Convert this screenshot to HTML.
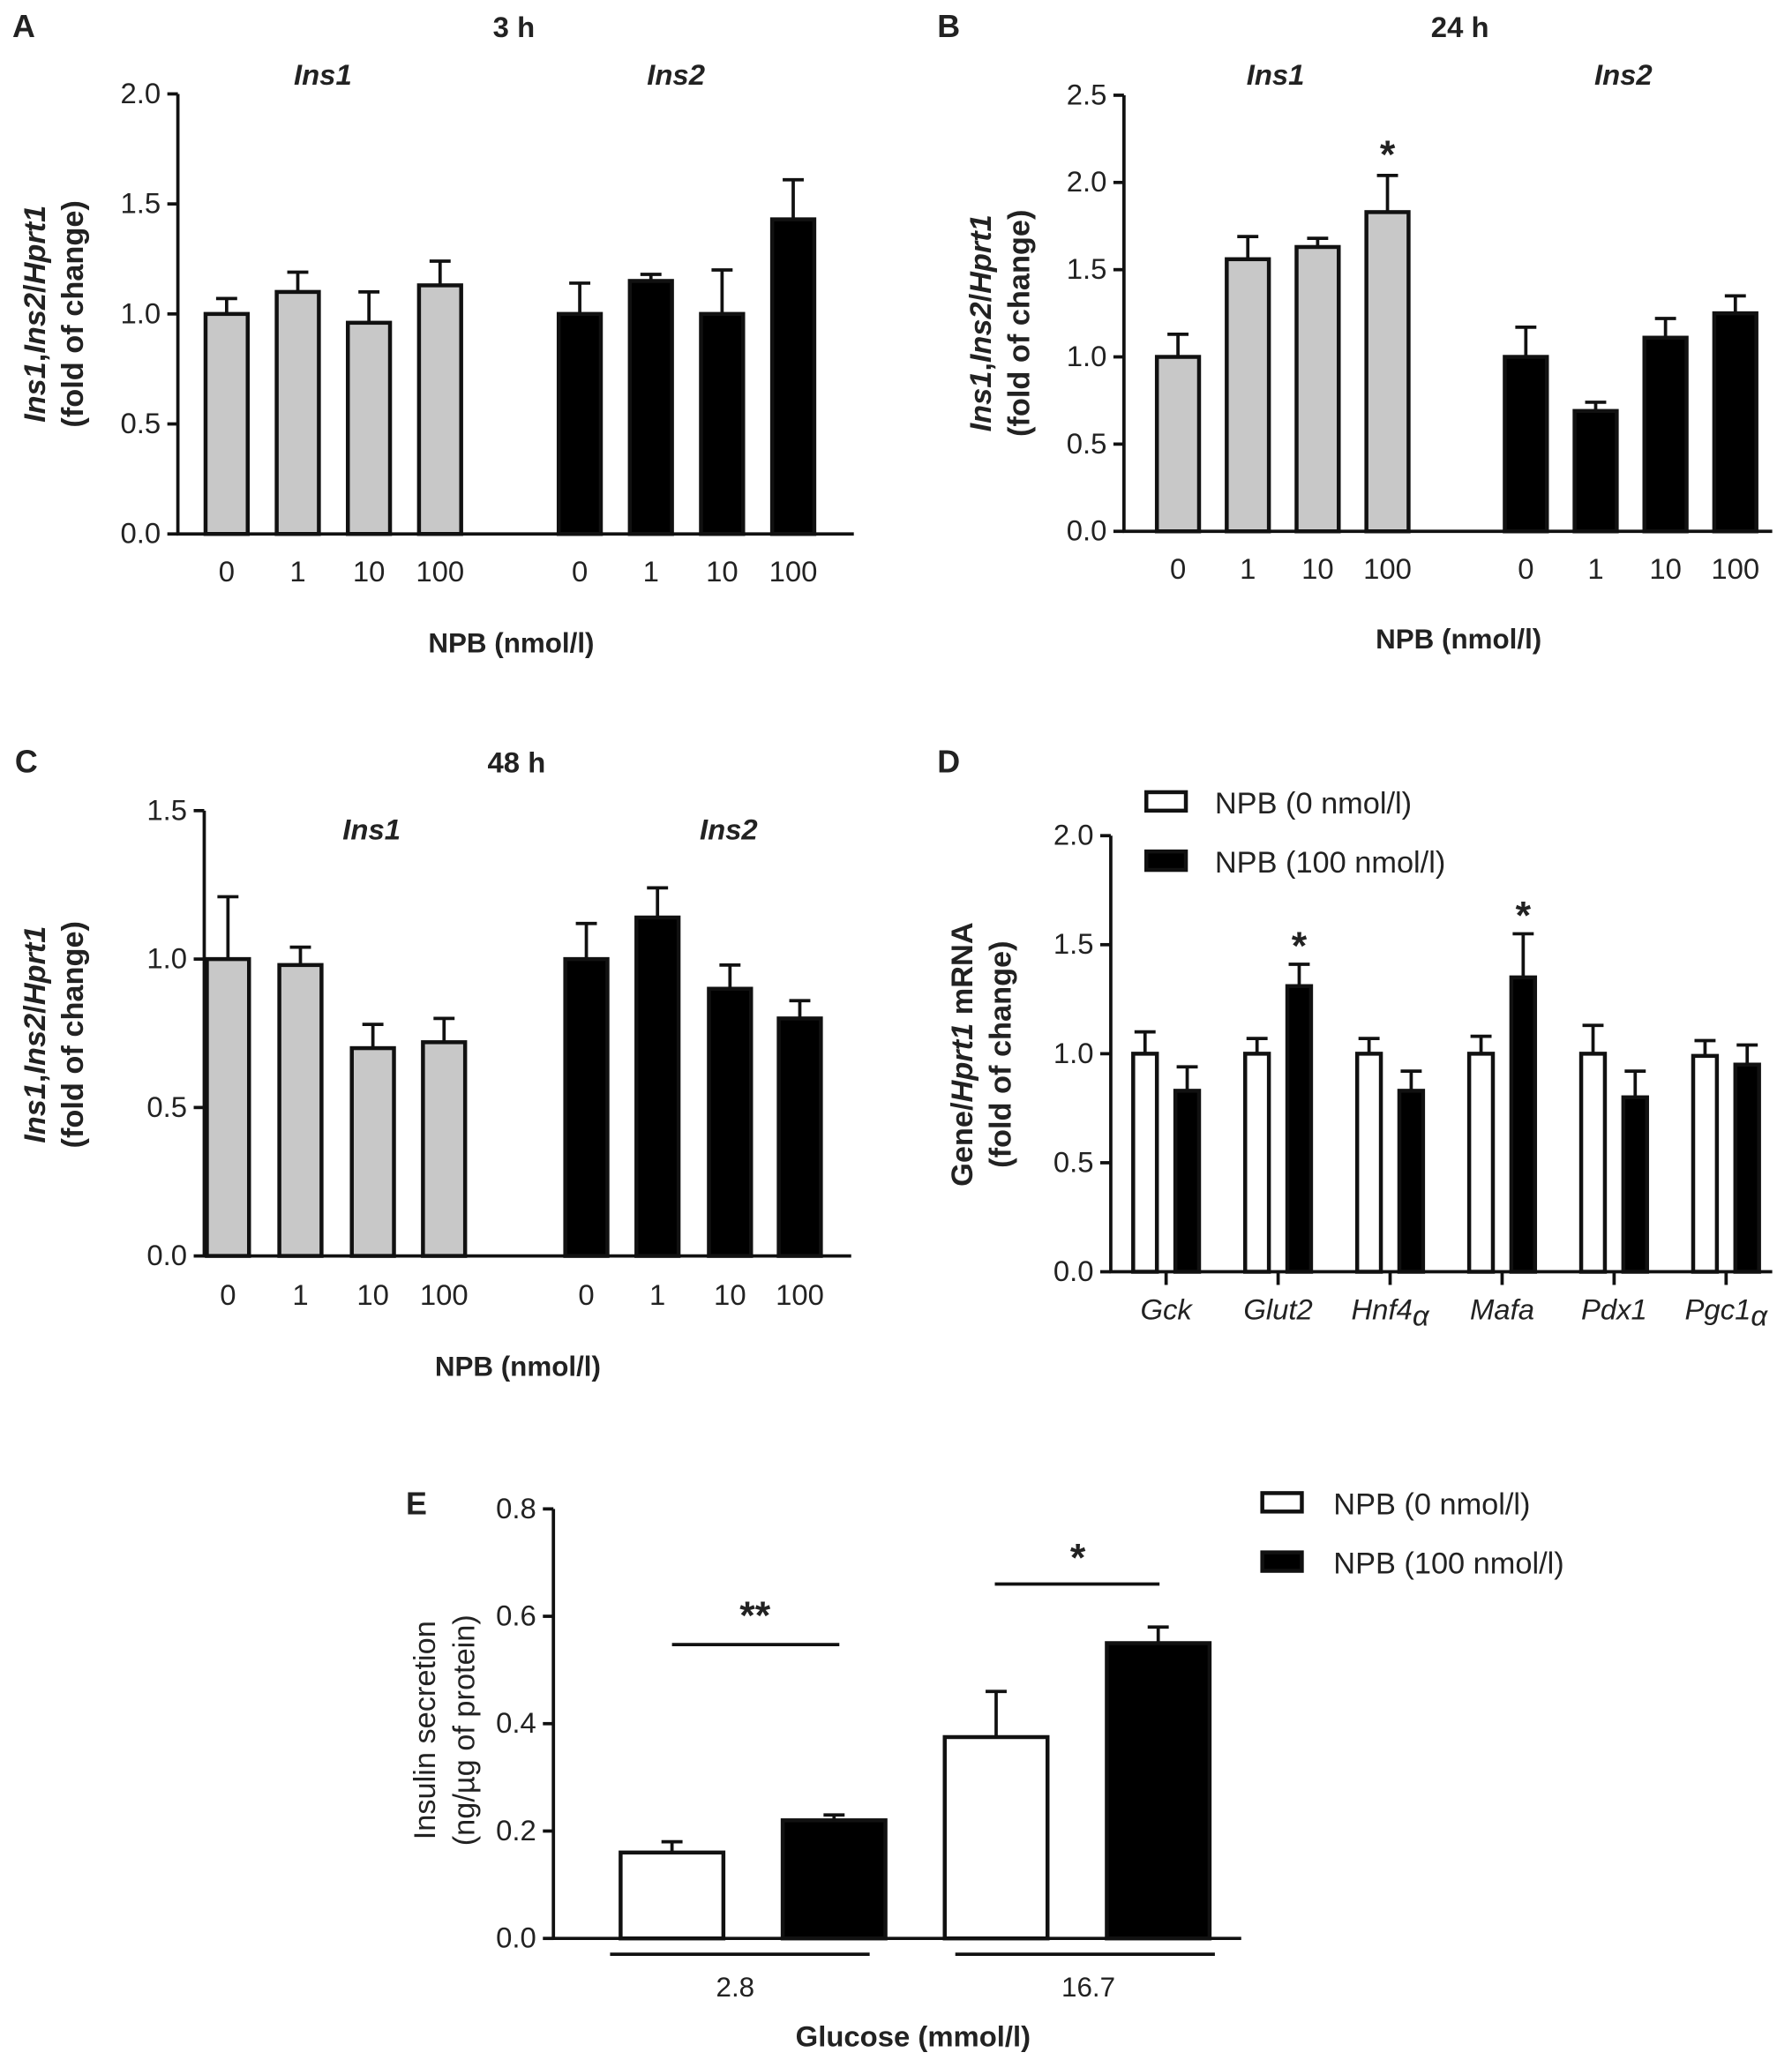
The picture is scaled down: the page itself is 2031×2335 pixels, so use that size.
<!DOCTYPE html>
<html><head><meta charset="utf-8"><style>
html,body{margin:0;padding:0;background:#fff}
svg{display:block}
text{font-family:"Liberation Sans",sans-serif;fill:#222}
</style></head><body>
<svg id="fig" width="2031" height="2335" viewBox="0 0 1360 1563" xmlns="http://www.w3.org/2000/svg"></svg>
<script>
const aIns1=[1.0,1.10,0.96,1.13], aIns1Err=[1.07,1.19,1.10,1.24];
const aIns2=[1.0,1.15,1.0,1.43], aIns2Err=[1.14,1.18,1.20,1.61];
const bIns1=[1.0,1.56,1.63,1.83], bIns1Err=[1.13,1.69,1.68,2.04];
const bIns2=[1.0,0.69,1.11,1.25], bIns2Err=[1.17,0.74,1.22,1.35];
const cIns1=[1.0,0.98,0.70,0.72], cIns1Err=[1.21,1.04,0.78,0.80];
const cIns2=[1.0,1.14,0.90,0.80], cIns2Err=[1.12,1.24,0.98,0.86];
const doses=["0","1","10","100"];
const dGenes=["Gck","Glut2","Hnf4","Mafa","Pdx1","Pgc1"];
const dCtrl=[1.0,1.0,1.0,1.0,1.0,0.99], dCtrlErr=[1.10,1.07,1.07,1.08,1.13,1.06];
const dNpb=[0.83,1.31,0.83,1.35,0.80,0.95], dNpbErr=[0.94,1.41,0.92,1.55,0.92,1.04];
const eGroups=["2.8","16.7"];
const eCtrl=[0.16,0.375], eCtrlErr=[0.18,0.46];
const eNpb=[0.22,0.55], eNpbErr=[0.23,0.58];

const svg=document.getElementById('fig');
const NS="http://www.w3.org/2000/svg";
function mk(tag,attrs,txt){const e=document.createElementNS(NS,tag);for(const k in attrs)e.setAttribute(k,attrs[k]);if(txt!==undefined)e.textContent=txt;svg.appendChild(e);return e;}
function line(x1,y1,x2,y2,w,name){const e=mk('line',{x1,y1,x2,y2,stroke:'#111','stroke-width':w||2.5});

return e;}
function txt(x,y,s,size,name,opts){opts=opts||{};const e=mk('text',Object.assign({x,y,'font-size':size,'text-anchor':opts.anchor||'middle'},opts.attrs||{}),s);
if(opts.bold)e.setAttribute('font-weight','bold');if(opts.italic)e.setAttribute('font-style','italic');if(opts.fill)e.setAttribute('fill',opts.fill);

return e;}
function yAxis(x0,yBottom,yTop,max,step,xEnd,name){
 const sc=v=>yBottom-(v/max)*(yBottom-yTop);
 line(x0,yTop,x0,yBottom+1,2.5,name+'-y-axis');
 line(x0-1,yBottom,xEnd,yBottom,2.5,name+'-x-axis');
 for(let v=0;v<=max+1e-9;v+=step){const y=sc(v);line(x0-8,y,x0,y,2.5,name+'-y-tick');
  txt(x0-13,y+7,v.toFixed(1),22,name+'-y-tick-label',{anchor:'end'});}
 return sc;}
function bar(cx,w,v,err,sc,fill,name){
 const y=sc(v),y0=sc(0);
 const e=mk('rect',{x:cx-w/2,y:y,width:w,height:y0-y,fill:fill,stroke:'#111','stroke-width':3});
 
 
 const ye=sc(err);line(cx,y,cx,ye,2.5,name+'-error-bar');line(cx-8,ye,cx+8,ye,2.5,name+'-error-cap');}
function ytitle(x,y,lines,name,size){const g=mk('text',{transform:`translate(${x},${y}) rotate(-90)`,'text-anchor':'middle','font-size':size||24,'font-weight':'bold'});
 
 
 lines.forEach((ln,i)=>{const t=document.createElementNS(NS,'tspan');t.setAttribute('x',0);t.setAttribute('dy',i?29:0);
  ln.forEach(p=>{const s=document.createElementNS(NS,'tspan');s.textContent=p[0];if(p[1])s.setAttribute('font-style','italic');t.appendChild(s);});g.appendChild(t);});}
const insTitle=[[["Ins1",1],[",",0],["Ins2",1],["/",0],["Hprt1",1]],[["(fold of change)",0]]];

function timePanel(P){
 const sc=yAxis(P.x0,P.y0,P.yTop,P.max,0.5,P.xEnd,P.id);
 P.c1.forEach((cx,i)=>{bar(cx,32,P.v1[i],P.e1[i],sc,'#c8c8c8',P.id+'-ins1-bar-'+doses[i]);txt(cx,P.lab,doses[i],22,P.id+'-x-tick-label');});
 P.c2.forEach((cx,i)=>{bar(cx,32,P.v2[i],P.e2[i],sc,'#000',P.id+'-ins2-bar-'+doses[i]);txt(cx,P.lab,doses[i],22,P.id+'-x-tick-label');});
 txt(P.g1,P.gy,'Ins1',22,P.id+'-ins1-label',{italic:1,bold:1});
 txt(P.g2,P.gy,'Ins2',22,P.id+'-ins2-label',{italic:1,bold:1});
 txt(P.tx,P.ty,P.title,22,P.id+'-title',{bold:1});
 txt(P.lx,P.ty,P.letter,24,P.id+'-panel-letter',{bold:1});
 txt(P.xtx,P.xty,'NPB (nmol/l)',21,P.id+'-x-axis-title',{bold:1});
 ytitle(P.ytx,P.yty,insTitle,P.id+'-y-axis-title',23);
 return sc;}
timePanel({id:'panel-a',x0:135,y0:405,yTop:71,max:2.0,xEnd:648,c1:[172,226,280,334],c2:[440,494,548,602],v1:aIns1,e1:aIns1Err,v2:aIns2,e2:aIns2Err,lab:441,g1:245,g2:513,gy:64,title:'3 h',tx:390,ty:28,lx:18,letter:'A',xtx:388,xty:495,ytx:34,yty:238});
const scB=timePanel({id:'panel-b',x0:853,y0:403,yTop:72,max:2.5,xEnd:1345,c1:[894,947,1000,1053],c2:[1158,1211,1264,1317],v1:bIns1,e1:bIns1Err,v2:bIns2,e2:bIns2Err,lab:439,g1:968,g2:1232,gy:64,title:'24 h',tx:1108,ty:28,lx:720,letter:'B',xtx:1107,xty:492,ytx:752,yty:245});
txt(1053,scB(bIns1Err[3])-6,'*',30,'panel-b-significance-star',{bold:1});
timePanel({id:'panel-c',x0:155,y0:953,yTop:615,max:1.5,xEnd:646,c1:[173,228,283,337],c2:[445,499,554,607],v1:cIns1,e1:cIns1Err,v2:cIns2,e2:cIns2Err,lab:990,g1:282,g2:553,gy:637,title:'48 h',tx:392,ty:586,lx:20,letter:'C',xtx:393,xty:1044,ytx:34,yty:785});

// Panel D
const scD=yAxis(843,965,634,2.0,0.5,1345,'panel-d');
const dCenters=[885,970,1055,1140,1225,1310];
dCenters.forEach((cx,i)=>{
 line(cx,965,cx,975,2.5,'panel-d-x-tick');
 bar(cx-16,18,dCtrl[i],dCtrlErr[i],scD,'#fff','panel-d-ctrl-bar-'+dGenes[i]);
 bar(cx+16,18,dNpb[i],dNpbErr[i],scD,'#000','panel-d-npb-bar-'+dGenes[i]);
 const t=txt(cx,1001,dGenes[i],22,'panel-d-x-tick-label',{italic:1,fill:'#555'});
 if(dGenes[i]==='Hnf4'||dGenes[i]==='Pgc1'){const s=document.createElementNS(NS,'tspan');s.setAttribute('dy',5);s.textContent='α';t.appendChild(s);}
});
[1,3].forEach(i=>txt(dCenters[i]+16,scD(dNpbErr[i])-4,'*',30,'panel-d-significance-star',{bold:1}));
txt(720,586,'D',24,'panel-d-panel-letter',{bold:1});
function legend(x,y1,y2,tx,pre){
 const r1=mk('rect',{x:x,y:y1,width:30,height:14,fill:'#fff',stroke:'#111','stroke-width':3});
 
 
 const r2=mk('rect',{x:x,y:y2,width:30,height:14,fill:'#000',stroke:'#111','stroke-width':3});
 
 
 txt(tx,y1+16,'NPB (0 nmol/l)',23,pre+'-legend-entry-0',{anchor:'start',fill:'#333'});
 txt(tx,y2+16,'NPB (100 nmol/l)',23,pre+'-legend-entry-100',{anchor:'start',fill:'#333'});}
legend(870,601,646,922,'panel-d');
ytitle(738,800,[[["Gene/",0],["Hprt1",1],[" mRNA",0]],[["(fold of change)",0]]],'panel-d-y-axis-title',23);

// Panel E
const scE=yAxis(420,1471,1145,0.8,0.2,942,'panel-e');
const eCtrlX=[510,756], eNpbX=[633,879];
const eLineL=[463,725], eLineR=[660,922], eLabX=[558,826];
eGroups.forEach((g,i)=>{
 bar(eCtrlX[i],78,eCtrl[i],eCtrlErr[i],scE,'#fff','panel-e-ctrl-bar-'+g);
 bar(eNpbX[i],78,eNpb[i],eNpbErr[i],scE,'#000','panel-e-npb-bar-'+g);
 line(eLineL[i],1483,eLineR[i],1483,2.5,'panel-e-group-line');
 txt(eLabX[i],1515,g,21,'panel-e-x-tick-label');
});
line(510,1248,637,1248,2.5,'panel-e-significance-line');
txt(573,1236,'**',30,'panel-e-significance-stars',{bold:1});
line(755,1202,880,1202,2.5,'panel-e-significance-line');
txt(818,1192,'*',30,'panel-e-significance-star',{bold:1});
txt(316,1149,'E',24,'panel-e-panel-letter',{bold:1});
txt(693,1553,'Glucose (mmol/l)',22,'panel-e-x-axis-title',{bold:1});
legend(958,1133,1178,1012,'panel-e');
const et=mk('text',{transform:'translate(330,1313) rotate(-90)','text-anchor':'middle','font-size':23,fill:'#333'});


et.innerHTML='<tspan x="0" dy="0">Insulin secretion</tspan><tspan x="0" dy="30">(ng/µg of protein)</tspan>';
</script>
</body></html>
